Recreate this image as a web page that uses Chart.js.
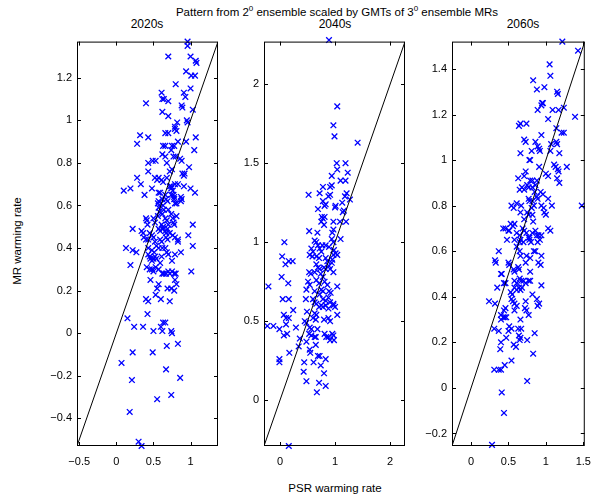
<!DOCTYPE html>
<html>
<head>
<title>PSR vs MR warming rate</title>
<script src="https://cdn.jsdelivr.net/npm/chart.js"></script>
<style>
  body { margin: 0; width: 600px; height: 502px; position: relative; background: #fff; overflow: hidden;
         font-family: "Liberation Sans", Arial, sans-serif; color: #000; }
  canvas { position: absolute; top: 30px; }
  .lbl { position: absolute; white-space: nowrap; transform: translate(-50%, -50%); font-size: 11.5px; }
  .sub { font-size: 12px; }
  sup { font-size: 8px; }
</style>
</head>
<body>
<div class="lbl" style="left:337px;top:11px">Pattern from 2<sup>0</sup> ensemble scaled by GMTs of 3<sup>0</sup> ensemble MRs</div>
<div class="lbl sub" style="left:147px;top:24px">2020s</div>
<div class="lbl sub" style="left:335px;top:24px">2040s</div>
<div class="lbl sub" style="left:523px;top:24px">2060s</div>
<div class="lbl" style="left:17px;top:241px;transform:translate(-50%,-50%) rotate(-90deg)">MR warming rate</div>
<div class="lbl" style="left:335px;top:488px">PSR warming rate</div>

<canvas id="c2020" width="198" height="445" style="left:27px"></canvas>
<canvas id="c2040" width="198" height="445" style="left:214px"></canvas>
<canvas id="c2060" width="198" height="445" style="left:402px"></canvas>

<script>
// [PSR, MR] pairs
var pts2020s = [[0.96,1.37],[0.96,1.35],[0.70,1.30],[1.00,1.30],[1.07,1.28],[1.08,1.27],[0.94,1.23],[1.01,1.21],[1.06,1.21],[1.00,1.15],[0.80,1.17],[0.91,1.13],[0.61,1.13],[0.40,1.08],[0.62,1.10],[0.64,1.10],[0.70,1.09],[0.93,1.11],[0.88,1.07],[0.89,1.06],[0.62,1.04],[0.70,1.02],[1.03,1.05],[0.95,1.00],[0.96,0.99],[0.82,0.99],[0.79,0.97],[0.81,0.95],[0.79,0.96],[0.32,0.93],[0.28,0.89],[0.43,0.92],[0.66,0.94],[0.70,0.94],[1.07,0.92],[0.94,0.90],[0.83,0.90],[0.63,0.88],[0.66,0.88],[0.75,0.88],[0.78,0.88],[1.05,0.86],[0.74,0.86],[0.62,0.84],[0.66,0.83],[0.77,0.83],[0.80,0.83],[0.49,0.81],[0.53,0.81],[0.43,0.80],[0.68,0.80],[0.88,0.81],[0.86,0.82],[0.98,0.78],[0.89,0.75],[0.91,0.74],[0.92,0.75],[0.43,0.76],[0.75,0.77],[0.72,0.76],[0.28,0.73],[0.52,0.73],[0.55,0.72],[0.57,0.73],[0.61,0.72],[0.63,0.71],[0.68,0.73],[0.33,0.70],[0.19,0.68],[0.10,0.67],[0.48,0.68],[0.38,0.65],[0.57,0.66],[0.59,0.66],[0.72,0.69],[0.74,0.69],[0.74,0.68],[0.76,0.67],[0.79,0.70],[0.83,0.70],[0.91,0.69],[1.00,0.68],[1.06,0.66],[0.77,0.65],[0.78,0.64],[0.74,0.65],[0.57,0.62],[0.60,0.61],[0.62,0.63],[0.66,0.65],[0.67,0.63],[0.56,0.61],[0.57,0.59],[0.63,0.60],[0.64,0.58],[0.69,0.62],[0.78,0.63],[0.79,0.61],[0.81,0.61],[0.87,0.64],[0.88,0.63],[0.87,0.62],[0.70,0.58],[0.58,0.57],[0.56,0.55],[0.62,0.56],[0.66,0.54],[0.50,0.54],[0.52,0.52],[0.40,0.54],[0.41,0.53],[0.42,0.51],[0.74,0.56],[0.76,0.54],[0.81,0.55],[0.61,0.51],[0.63,0.50],[0.68,0.53],[0.70,0.51],[0.77,0.52],[0.78,0.51],[1.03,0.51],[0.22,0.49],[0.34,0.48],[0.36,0.47],[0.45,0.47],[0.48,0.46],[0.57,0.49],[0.59,0.48],[0.63,0.49],[0.66,0.48],[0.67,0.47],[0.69,0.49],[0.72,0.47],[0.97,0.46],[0.37,0.45],[0.40,0.44],[0.43,0.44],[0.50,0.45],[0.52,0.43],[0.59,0.44],[0.61,0.43],[0.67,0.45],[0.69,0.44],[0.76,0.46],[0.79,0.45],[0.83,0.44],[0.83,0.43],[1.03,0.41],[0.13,0.40],[0.22,0.39],[0.27,0.38],[0.43,0.40],[0.48,0.39],[0.54,0.41],[0.57,0.40],[0.62,0.40],[0.66,0.40],[0.43,0.37],[0.45,0.36],[0.51,0.38],[0.52,0.36],[0.54,0.35],[0.61,0.36],[0.68,0.38],[0.70,0.37],[0.79,0.37],[0.87,0.38],[0.46,0.35],[0.48,0.34],[0.50,0.35],[0.59,0.33],[0.75,0.34],[0.19,0.32],[0.41,0.31],[0.45,0.30],[0.48,0.30],[0.50,0.29],[0.53,0.31],[0.57,0.30],[0.62,0.28],[0.64,0.28],[0.67,0.28],[0.70,0.29],[0.72,0.28],[0.75,0.29],[0.78,0.28],[0.80,0.28],[1.01,0.29],[0.46,0.25],[0.57,0.23],[0.55,0.21],[0.79,0.25],[0.81,0.23],[0.69,0.21],[0.74,0.21],[0.78,0.20],[0.53,0.18],[0.40,0.16],[0.43,0.15],[0.60,0.16],[0.72,0.15],[0.15,0.07],[0.42,0.09],[0.24,0.03],[0.36,0.03],[0.50,0.01],[0.60,0.03],[0.62,0.01],[0.63,0.05],[0.66,0.05],[0.74,0.01],[0.75,0.00],[0.68,-0.06],[0.83,-0.05],[0.22,-0.09],[0.49,-0.09],[0.07,-0.14],[0.67,-0.17],[0.86,-0.21],[0.21,-0.22],[0.74,-0.29],[0.55,-0.31],[0.18,-0.37],[0.30,-0.51],[0.34,-0.53]];

var pts2040s = [[0.89,2.28],[1.04,1.86],[0.97,1.74],[0.99,1.67],[1.41,1.63],[1.03,1.50],[1.19,1.50],[1.04,1.46],[1.23,1.44],[0.94,1.42],[1.10,1.39],[1.19,1.39],[0.78,1.35],[0.91,1.35],[0.94,1.36],[0.52,1.30],[0.72,1.31],[0.88,1.29],[0.91,1.30],[1.21,1.31],[1.18,1.29],[1.27,1.27],[0.78,1.26],[0.83,1.24],[0.81,1.23],[1.01,1.23],[1.00,1.22],[1.13,1.25],[1.16,1.20],[1.14,1.19],[0.69,1.21],[0.76,1.16],[0.78,1.15],[0.81,1.16],[0.75,1.13],[0.80,1.11],[0.97,1.13],[1.09,1.13],[1.20,1.13],[0.97,1.08],[0.95,1.06],[0.53,1.07],[0.68,1.06],[1.10,1.02],[0.63,1.01],[0.66,1.00],[0.69,0.98],[0.94,1.02],[0.97,1.00],[0.08,1.00],[0.77,0.98],[0.83,0.98],[0.89,0.97],[0.57,0.96],[0.60,0.94],[0.72,0.96],[0.75,0.94],[0.98,0.95],[1.01,0.93],[0.97,0.92],[0.04,0.91],[0.54,0.92],[0.59,0.91],[0.66,0.91],[0.71,0.90],[0.83,0.90],[0.86,0.88],[0.95,0.89],[0.94,0.87],[0.16,0.88],[0.23,0.88],[0.10,0.86],[0.66,0.86],[0.69,0.84],[0.72,0.83],[0.80,0.84],[0.83,0.83],[0.89,0.85],[0.91,0.83],[1.04,0.92],[0.53,0.81],[0.56,0.80],[0.63,0.81],[0.74,0.80],[0.78,0.78],[0.97,0.81],[0.03,0.78],[0.15,0.74],[-0.21,0.72],[0.51,0.75],[0.54,0.73],[0.66,0.76],[0.71,0.74],[0.81,0.75],[0.86,0.73],[1.04,0.72],[0.48,0.70],[0.63,0.69],[0.75,0.70],[0.78,0.69],[0.72,0.67],[0.89,0.69],[0.92,0.68],[0.47,0.64],[0.05,0.64],[0.16,0.64],[0.60,0.64],[0.63,0.62],[0.78,0.64],[0.83,0.63],[0.88,0.65],[0.91,0.62],[0.97,0.61],[0.66,0.61],[0.71,0.59],[0.75,0.60],[0.78,0.59],[0.83,0.60],[0.88,0.58],[0.97,0.60],[1.00,0.59],[0.24,0.57],[0.49,0.56],[0.63,0.55],[0.66,0.54],[0.07,0.54],[0.11,0.52],[0.16,0.52],[1.04,0.54],[0.60,0.52],[0.65,0.51],[0.80,0.51],[0.88,0.52],[0.91,0.50],[0.45,0.50],[0.48,0.49],[-0.23,0.47],[-0.12,0.47],[-0.01,0.45],[0.11,0.48],[0.29,0.46],[0.54,0.46],[0.57,0.45],[0.68,0.45],[0.07,0.41],[0.13,0.42],[0.53,0.42],[0.57,0.41],[0.63,0.40],[0.65,0.40],[0.81,0.42],[0.84,0.40],[0.88,0.40],[0.91,0.38],[0.95,0.42],[0.97,0.41],[0.98,0.38],[0.36,0.39],[0.48,0.37],[0.65,0.35],[0.34,0.34],[0.17,0.30],[0.54,0.32],[0.55,0.30],[0.69,0.28],[0.72,0.28],[0.83,0.26],[-0.01,0.26],[-0.01,0.24],[0.44,0.24],[0.61,0.24],[0.74,0.22],[0.43,0.18],[0.80,0.17],[0.48,0.12],[0.71,0.11],[0.83,0.09],[0.67,0.05],[0.16,-0.29]];

var pts2060s = [[1.22,1.52],[1.43,1.48],[1.05,1.42],[1.06,1.37],[0.83,1.35],[0.88,1.31],[0.98,1.32],[1.15,1.30],[1.16,1.29],[0.95,1.25],[0.96,1.25],[0.94,1.24],[0.89,1.22],[1.09,1.22],[1.17,1.22],[1.24,1.23],[1.39,1.19],[1.03,1.18],[0.64,1.15],[0.66,1.16],[0.74,1.16],[1.21,1.12],[1.24,1.12],[1.14,1.14],[0.71,1.09],[0.73,1.08],[0.86,1.08],[0.89,1.06],[0.94,1.11],[0.91,1.05],[0.92,1.04],[1.07,1.07],[1.06,1.04],[1.14,1.08],[1.15,1.07],[0.66,1.03],[0.81,1.04],[0.78,1.00],[0.79,1.00],[0.91,0.97],[1.18,1.03],[1.28,0.97],[1.11,0.98],[1.13,0.97],[1.00,0.94],[1.03,0.93],[1.16,0.96],[1.17,0.95],[1.15,0.92],[1.18,0.90],[0.73,0.95],[0.71,0.93],[0.63,0.92],[0.79,0.91],[0.82,0.91],[0.88,0.91],[0.86,0.89],[0.75,0.89],[0.77,0.88],[0.68,0.88],[0.71,0.87],[0.65,0.87],[0.82,0.88],[0.85,0.86],[0.93,0.86],[0.96,0.85],[0.88,0.84],[0.89,0.83],[1.03,0.83],[0.77,0.83],[0.78,0.82],[0.82,0.82],[0.57,0.79],[0.61,0.81],[0.54,0.80],[0.67,0.80],[1.08,0.80],[1.48,0.80],[0.84,0.80],[0.81,0.79],[0.94,0.80],[0.97,0.79],[0.98,0.77],[1.00,0.76],[0.66,0.77],[0.75,0.77],[0.77,0.76],[0.82,0.76],[0.83,0.73],[0.71,0.74],[0.43,0.70],[0.46,0.70],[0.53,0.72],[0.56,0.71],[0.58,0.72],[0.50,0.69],[0.51,0.69],[0.48,0.65],[0.61,0.68],[0.65,0.67],[0.69,0.70],[0.71,0.69],[0.74,0.68],[0.77,0.66],[0.78,0.66],[0.82,0.68],[0.86,0.69],[0.88,0.67],[0.90,0.67],[0.92,0.65],[1.03,0.70],[1.06,0.69],[0.94,0.67],[0.58,0.65],[0.61,0.62],[0.66,0.65],[0.65,0.64],[0.70,0.64],[0.78,0.65],[0.80,0.64],[0.89,0.64],[0.84,0.60],[0.86,0.60],[0.94,0.58],[0.93,0.54],[0.37,0.60],[0.32,0.56],[0.33,0.55],[0.65,0.60],[0.66,0.58],[0.74,0.58],[0.73,0.55],[0.79,0.57],[0.90,0.55],[0.50,0.55],[0.51,0.54],[0.57,0.52],[0.58,0.51],[0.63,0.53],[0.64,0.52],[0.79,0.51],[0.41,0.50],[0.40,0.50],[0.44,0.46],[0.46,0.46],[0.35,0.44],[0.58,0.47],[0.61,0.46],[0.65,0.48],[0.67,0.47],[0.70,0.47],[0.73,0.46],[0.77,0.47],[0.79,0.47],[0.58,0.44],[0.61,0.43],[0.64,0.44],[0.66,0.43],[0.68,0.44],[0.94,0.45],[0.53,0.42],[0.55,0.41],[0.82,0.41],[0.24,0.38],[0.32,0.37],[0.54,0.39],[0.56,0.38],[0.58,0.37],[0.61,0.36],[0.73,0.38],[0.88,0.39],[0.91,0.37],[0.89,0.36],[0.46,0.35],[0.44,0.34],[0.58,0.34],[0.72,0.35],[0.74,0.34],[0.77,0.32],[0.40,0.32],[0.43,0.31],[0.45,0.31],[0.47,0.31],[0.40,0.30],[0.66,0.30],[0.51,0.27],[0.54,0.26],[0.63,0.26],[0.67,0.26],[0.31,0.26],[0.37,0.25],[0.50,0.25],[0.85,0.24],[0.64,0.23],[0.66,0.22],[0.65,0.21],[0.47,0.22],[0.75,0.21],[0.57,0.19],[0.60,0.18],[0.40,0.20],[0.39,0.17],[0.83,0.15],[0.54,0.12],[0.45,0.10],[0.31,0.08],[0.37,0.08],[0.40,0.08],[0.75,0.03],[0.41,-0.02],[0.44,-0.11],[0.28,-0.25]];

// shared x/y limits of each panel (the 1:1 line runs corner to corner)
var lim2020s = [-0.53, 1.37];
var lim2040s = [-0.29, 2.27];
var lim2060s = [-0.255, 1.52];

var xTicks2020s = [-0.5, 0, 0.5, 1];
var yTicks2020s = [-0.4, -0.2, 0, 0.2, 0.4, 0.6, 0.8, 1, 1.2];
var xTicks2040s = [0, 1, 2];
var yTicks2040s = [0, 0.5, 1, 1.5, 2];
var xTicks2060s = [0, 0.5, 1, 1.5];
var yTicks2060s = [-0.2, 0, 0.2, 0.4, 0.6, 0.8, 1, 1.2, 1.4];

function fmt(v) {
    var s = String(Math.round(v * 100) / 100);
    return s.replace('-', '\u2212');
}

// box round the axes with inward ticks on all four sides, matlab style
var boxTicks = {
    id: 'boxTicks',
    afterDatasetsDraw: function(chart) {
        var ctx = chart.ctx, a = chart.chartArea;
        var xs = chart.scales.x, ys = chart.scales.y;
        ctx.save();
        ctx.strokeStyle = '#000';
        ctx.lineWidth = 1;
        ctx.beginPath();
        xs.ticks.forEach(function(t) {
            var p = Math.round(xs.getPixelForValue(t.value)) + 0.5;
            ctx.moveTo(p, a.bottom); ctx.lineTo(p, a.bottom - 4);
            ctx.moveTo(p, a.top); ctx.lineTo(p, a.top + 4);
        });
        ys.ticks.forEach(function(t) {
            var p = Math.round(ys.getPixelForValue(t.value)) + 0.5;
            ctx.moveTo(a.left, p); ctx.lineTo(a.left + 4, p);
            ctx.moveTo(a.right, p); ctx.lineTo(a.right - 4, p);
        });
        ctx.stroke();
        ctx.strokeRect(a.left + 0.5, a.top + 0.5, a.width - 1, a.height - 1);
        ctx.restore();
    }
};

function makePanel(id, pts, lim, xTicks, yTicks) {
    var tickFont = { family: '"Liberation Sans", Arial, sans-serif', size: 11 };
    return new Chart(document.getElementById(id), {
        type: 'scatter',
        data: {
            datasets: [{
                data: [{ x: lim[0], y: lim[0] }, { x: lim[1], y: lim[1] }],
                showLine: true,
                borderColor: '#000',
                borderWidth: 1,
                pointRadius: 0,
                clip: 0
            }, {
                data: pts.map(function(p) { return { x: p[0], y: p[1] }; }),
                pointStyle: 'crossRot',
                pointRadius: 4,
                borderColor: '#0000ff',
                borderWidth: 1.3,
                clip: false
            }]
        },
        options: {
            responsive: false,
            animation: false,
            devicePixelRatio: 1,
            layout: { padding: { top: 7, right: 7, left: 0, bottom: 0 } },
            plugins: { legend: { display: false }, tooltip: { enabled: false } },
            scales: {
                x: {
                    type: 'linear',
                    min: lim[0], max: lim[1],
                    grid: { display: false, drawTicks: false },
                    border: { display: false },
                    afterBuildTicks: function(s) { s.ticks = xTicks.map(function(v) { return { value: v }; }); },
                    afterFit: function(s) { s.height = 29; },
                    ticks: { color: '#000', font: tickFont, padding: 9, maxRotation: 0, autoSkip: false, callback: fmt }
                },
                y: {
                    type: 'linear',
                    min: lim[0], max: lim[1],
                    grid: { display: false, drawTicks: false },
                    border: { display: false },
                    afterBuildTicks: function(s) { s.ticks = yTicks.map(function(v) { return { value: v }; }); },
                    afterFit: function(s) { s.width = 50; },
                    ticks: { color: '#000', font: tickFont, padding: 5, autoSkip: false, callback: fmt }
                }
            }
        },
        plugins: [boxTicks]
    });
}

makePanel('c2020', pts2020s, lim2020s, xTicks2020s, yTicks2020s);
makePanel('c2040', pts2040s, lim2040s, xTicks2040s, yTicks2040s);
makePanel('c2060', pts2060s, lim2060s, xTicks2060s, yTicks2060s);
</script>
</body>
</html>
